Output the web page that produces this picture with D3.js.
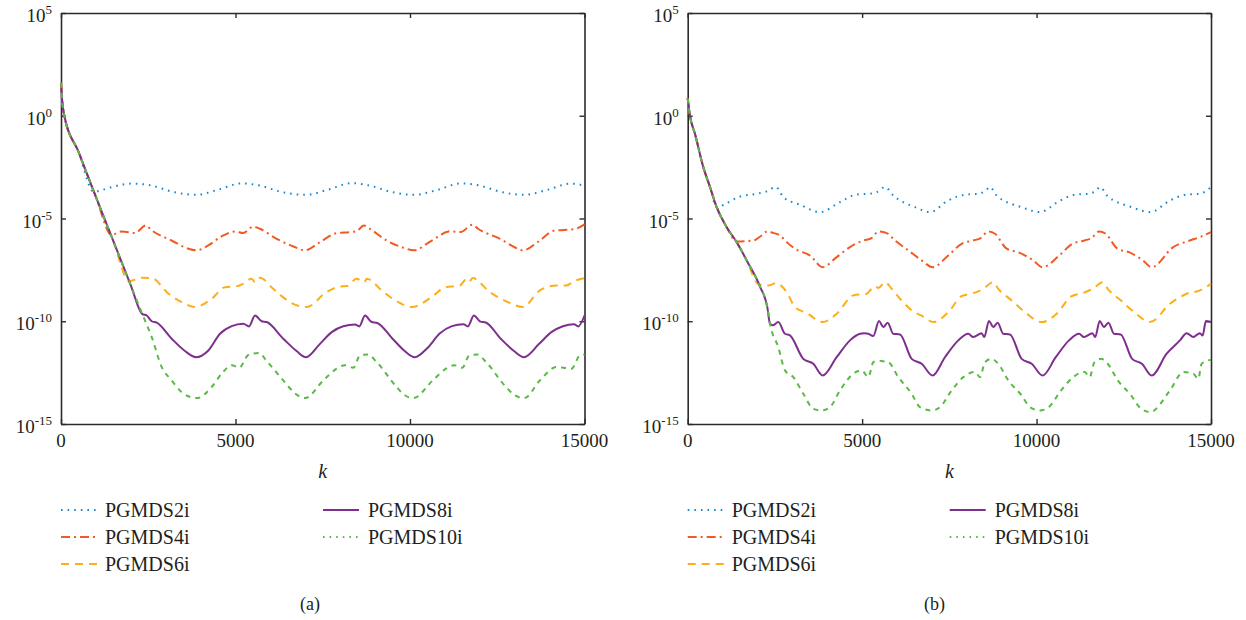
<!DOCTYPE html>
<html>
<head>
<meta charset="utf-8">
<script src="https://cdn.jsdelivr.net/npm/d3@7"></script>
<style>
  body { margin: 0; background: #fff; }
  svg text { font-family: "Liberation Serif", "DejaVu Serif", serif; fill: #231f20; }
</style>
</head>
<body>
<svg id="chart" width="1246" height="620"></svg>
<script>
// Residual curves, values stored as log10 of the error, pairs are [k, log10]
var kTicks = [0, 5000, 10000, 15000];
var yTickExp = [5, 0, -5, -10, -15];
var seriesNames = ["PGMDS2i", "PGMDS4i", "PGMDS6i", "PGMDS8i", "PGMDS10i"];
var panelLabels = ["(a)", "(b)"];

// ---- panel (a)
var descentA = [[0, 1.6], [30, 0.8], [95, 0], [500, -1.75], [1000, -3.95], [1500, -6.1], [2000, -8.25], [2330, -9.65]];

var pgmds2A = [[940, -3.7], [1200, -3.6], [1500, -3.45], [2050, -3.3], [2600, -3.4], [3200, -3.7], [3880, -3.85], [4500, -3.6],
  [5180, -3.29], [5700, -3.4], [6300, -3.7], [7000, -3.85], [7650, -3.6], [8320, -3.28], [8850, -3.4], [9450, -3.7],
  [10100, -3.85], [10800, -3.6], [11460, -3.29], [12000, -3.4], [12600, -3.7], [13260, -3.85], [13950, -3.6], [14600, -3.3], [15000, -3.4]];

var pgmds4A = [[1450, -5.8], [1740, -5.63], [2120, -5.71], [2430, -5.34], [2600, -5.58], [3170, -6.07], [3650, -6.47], [3890, -6.55],
  [4220, -6.31], [4600, -5.87], [4990, -5.63], [5220, -5.71], [5510, -5.39], [5700, -5.5], [6180, -5.99], [6660, -6.36],
  [6990, -6.55], [7420, -6.15], [7900, -5.71], [8280, -5.66], [8470, -5.62], [8680, -5.34], [8850, -5.5], [9330, -6.07],
  [9810, -6.42], [10110, -6.55], [10600, -6.1], [11150, -5.62], [11450, -5.66], [11790, -5.3], [11950, -5.5], [12580, -5.99],
  [13000, -6.4], [13230, -6.55], [13700, -6.1], [14110, -5.6], [14480, -5.55], [14750, -5.5], [15000, -5.29]];

var pgmds6A = [[1950, -8.05], [2310, -7.88], [2600, -7.9], [3080, -8.66], [3460, -9.07], [3840, -9.31], [4320, -8.9], [4700, -8.34],
  [4990, -8.31], [5220, -8.18], [5460, -7.93], [5560, -8.1], [5700, -7.88], [6080, -8.42], [6560, -9.07], [7040, -9.31],
  [7610, -8.58], [7990, -8.31], [8190, -8.29], [8470, -7.93], [8690, -8.1], [8760, -7.93], [9240, -8.58], [9700, -9.1],
  [10050, -9.31], [10600, -8.85], [11000, -8.35], [11430, -8.26], [11600, -7.98], [11690, -8.1], [11790, -7.9], [12300, -8.6],
  [12850, -9.1], [13230, -9.31], [13720, -8.5], [14200, -8.26], [14480, -8.26], [14700, -8.05], [15000, -7.9]];

var pgmds8A = [[2456, -9.72], [2600, -10.0], [2743, -10.07], [3172, -10.85], [3553, -11.45], [3868, -11.75], [4222, -11.42],
  [4556, -10.61], [4891, -10.24], [5223, -10.12], [5387, -10.25], [5559, -9.72], [5750, -10.0], [5893, -10.04], [6369, -10.85],
  [6750, -11.45], [7020, -11.75], [7421, -11.1], [7756, -10.53], [8088, -10.24], [8424, -10.16], [8547, -10.25], [8711, -9.72],
  [8903, -10.04], [9046, -10.07], [9500, -10.85], [9850, -11.45], [10140, -11.75], [10500, -11.3], [10850, -10.6], [11200, -10.24],
  [11530, -10.14], [11660, -10.25], [11830, -9.72], [12020, -10.02], [12170, -10.06], [12600, -10.85], [12980, -11.45],
  [13264, -11.75], [13700, -11.1], [14050, -10.53], [14380, -10.24], [14700, -10.14], [14820, -10.25], [15000, -9.72]];

var pgmds10A = [[2600, -10.77], [2886, -12.23], [3172, -12.88], [3458, -13.45], [3888, -13.74], [4318, -13.2], [4605, -12.55],
  [4891, -12.14], [5109, -12.26], [5350, -11.66], [5460, -11.58], [5700, -11.55], [5845, -11.83], [6370, -12.88], [6700, -13.5],
  [6991, -13.74], [7516, -12.88], [7898, -12.31], [8137, -12.14], [8376, -12.26], [8567, -11.66], [8806, -11.62], [9045, -11.99],
  [9618, -13.2], [9850, -13.6], [10095, -13.74], [10650, -12.88], [11030, -12.31], [11270, -12.14], [11500, -12.26], [11700, -11.66],
  [11940, -11.62], [12180, -11.99], [12750, -13.2], [13000, -13.6], [13275, -13.74], [13720, -12.88], [14198, -12.23],
  [14400, -12.26], [14628, -12.31], [14871, -11.66], [15000, -11.62]];

// ---- panel (b)
var descentB = [[0, 0.85], [66, 0], [212, -0.9], [447, -2.5], [639, -3.47], [831, -4.45], [1117, -5.42], [1404, -6.15],
  [1691, -7.04], [2072, -8.31], [2282, -9.31], [2359, -10.12]];

var pgmds2B = [[849, -4.45], [1117, -4.25], [1499, -3.93], [1977, -3.8], [2264, -3.68], [2531, -3.47], [2741, -3.96], [3219, -4.33],
  [3792, -4.69], [4365, -4.2], [4844, -3.83], [5177, -3.8], [5417, -3.72], [5655, -3.47], [5893, -3.88], [6515, -4.45],
  [6945, -4.69], [7469, -4.12], [7948, -3.84], [8329, -3.8], [8521, -3.67], [8664, -3.47], [8856, -3.88], [9573, -4.45],
  [10098, -4.69], [10650, -4.15], [11100, -3.84], [11480, -3.8], [11680, -3.67], [11822, -3.47], [12020, -3.88], [12730, -4.45],
  [13255, -4.69], [13828, -4.12], [14306, -3.83], [14690, -3.8], [14850, -3.67], [15000, -3.47]];

var pgmds4B = [[1404, -6.12], [1882, -6.07], [2100, -5.85], [2282, -5.63], [2450, -5.7], [2646, -5.82], [2837, -6.15], [3124, -6.52],
  [3506, -6.8], [3869, -7.37], [4270, -6.88], [4652, -6.39], [5034, -6.07], [5273, -5.95], [5464, -5.63], [5703, -5.71],
  [5941, -6.07], [6323, -6.55], [6706, -7.04], [7021, -7.37], [7469, -6.8], [7851, -6.23], [8185, -6.07], [8400, -5.95],
  [8616, -5.63], [8807, -5.74], [9142, -6.47], [9477, -6.64], [9906, -7.04], [10175, -7.37], [10650, -6.8], [11030, -6.23],
  [11370, -6.07], [11580, -5.95], [11790, -5.63], [11980, -5.74], [12320, -6.47], [12650, -6.64], [13050, -7.04], [13299, -7.37],
  [13918, -6.39], [14397, -6.07], [14683, -5.9], [15000, -5.66]];

var pgmds6B = [[2030, -8.2], [2310, -8.26], [2531, -8.15], [2837, -8.58], [3075, -9.31], [3410, -9.6], [3869, -10.04], [4270, -9.64],
  [4747, -8.74], [5130, -8.66], [5273, -8.42], [5380, -8.3], [5464, -8.38], [5655, -8.1], [5846, -8.42], [6133, -8.99],
  [6420, -9.47], [6753, -9.77], [7040, -10.04], [7469, -9.56], [7851, -8.78], [8234, -8.61], [8473, -8.42], [8759, -8.1],
  [8902, -8.42], [9286, -8.99], [9668, -9.56], [10146, -10.04], [10600, -9.6], [10980, -8.8], [11370, -8.6], [11610, -8.42],
  [11900, -8.1], [12040, -8.42], [12420, -8.99], [12800, -9.56], [13250, -10.04], [13823, -9.15], [14302, -8.66],
  [14683, -8.5], [15000, -8.18]];

var pgmds8B = [[2436, -10.2], [2597, -10.04], [2789, -10.61], [2932, -10.69], [3314, -11.83], [3600, -12.07], [3869, -12.64],
  [4270, -11.75], [4652, -10.93], [4938, -10.61], [5062, -10.58], [5177, -10.61], [5320, -10.72], [5484, -9.99], [5607, -10.28],
  [5732, -10.07], [5893, -10.61], [6085, -10.64], [6420, -11.83], [6706, -12.07], [7021, -12.64], [7374, -11.75], [7756, -10.93],
  [8042, -10.61], [8185, -10.77], [8426, -10.58], [8501, -10.77], [8636, -9.99], [8759, -10.28], [8885, -10.07], [9045, -10.61],
  [9238, -10.64], [9573, -11.83], [9860, -12.07], [10175, -12.64], [10550, -11.75], [10930, -10.93], [11220, -10.61],
  [11360, -10.77], [11600, -10.58], [11680, -10.77], [11810, -9.99], [11930, -10.28], [12060, -10.07], [12220, -10.61],
  [12410, -10.64], [12740, -11.83], [13020, -12.07], [13299, -12.64], [13729, -11.58], [14110, -10.93], [14302, -10.58],
  [14492, -10.77], [14683, -10.58], [14760, -10.69], [14855, -9.99], [15000, -10.04]];

var pgmds10B = [[2597, -11.26], [2789, -12.39], [3027, -12.72], [3314, -13.53], [3600, -14.26], [3841, -14.34], [4079, -14.18],
  [4365, -13.37], [4747, -12.55], [4987, -12.39], [5177, -12.72], [5320, -11.99], [5464, -11.91], [5600, -11.95], [5750, -11.99],
  [6037, -12.72], [6420, -13.53], [6658, -14.18], [6993, -14.34], [7231, -14.18], [7566, -13.37], [7899, -12.72], [8234, -12.47],
  [8378, -12.72], [8521, -11.99], [8712, -11.83], [8902, -12.07], [9190, -12.88], [9573, -13.61], [9811, -14.18], [10098, -14.34],
  [10350, -14.18], [10700, -13.37], [11050, -12.72], [11380, -12.47], [11520, -12.72], [11660, -11.99], [11850, -11.83],
  [12040, -12.07], [12330, -12.88], [12710, -13.61], [12950, -14.18], [13250, -14.42], [13823, -13.37], [14206, -12.47],
  [14492, -12.55], [14635, -12.8], [14731, -12.07], [15000, -11.87]];

// Styles per series (plot dash / legend dash)
var seriesStyle = [
    { color: "#1a86d0", dash: "1.6,5", legendDash: "1.6,5", width: 2 },
    { color: "#f25a24", dash: "9,4,2,4", legendDash: "9,4,2,4", width: 2 },
    { color: "#fdae1d", dash: "8,6", legendDash: "8,6", width: 2 },
    { color: "#7e2f8e", dash: null, legendDash: null, width: 2 },
    { color: "#5cb848", dash: "5,5", legendDash: "1.6,5", width: 2 }
];

// join a shared descent with a branch: descent points before the branch start
function withDescent(descent, branch) {
    var start = branch[0][0];
    return descent.filter(function(p) { return p[0] < start; }).concat(branch);
}

var panels = [
    { x0: 61, x1: 584.5, label: panelLabels[0], labelX: 310,
      series: [pgmds2A, pgmds4A, pgmds6A, pgmds8A, pgmds10A], descent: descentA },
    { x0: 687.7, x1: 1211, label: panelLabels[1], labelX: 934.5,
      series: [pgmds2B, pgmds4B, pgmds6B, pgmds8B, pgmds10B], descent: descentB }
];

var yTop = 13, yBottom = 424;
var frameColor = "#2b2b2b";
var svg = d3.select("#chart");

panels.forEach(function(p) {
    var x = d3.scaleLinear().domain([0, 15000]).range([p.x0, p.x1]);
    var y = d3.scaleLog().domain([1e-15, 1e5]).range([yBottom, yTop]);
    var g = svg.append("g");

    var yTickVals = yTickExp.map(function(e) { return Math.pow(10, e); });

    // axes on all four sides, ticks pointing inward
    var axB = g.append("g").attr("transform", "translate(0," + yBottom + ")")
        .call(d3.axisBottom(x).tickValues(kTicks).tickSizeInner(-5).tickSizeOuter(0).tickFormat(""));
    var axT = g.append("g").attr("transform", "translate(0," + yTop + ")")
        .call(d3.axisTop(x).tickValues(kTicks).tickSizeInner(-5).tickSizeOuter(0).tickFormat(""));
    var axL = g.append("g").attr("transform", "translate(" + p.x0 + ",0)")
        .call(d3.axisLeft(y).tickValues(yTickVals).tickSizeInner(-5).tickSizeOuter(0).tickFormat(""));
    var axR = g.append("g").attr("transform", "translate(" + p.x1 + ",0)")
        .call(d3.axisRight(y).tickValues(yTickVals).tickSizeInner(-5).tickSizeOuter(0).tickFormat(""));

    [axB, axT, axL, axR].forEach(function(a) {
        a.select(".domain").attr("stroke", frameColor).attr("stroke-width", 1.6);
        a.selectAll(".tick line").attr("stroke", frameColor).attr("stroke-width", 1.4);
    });

    // x tick labels
    g.selectAll(".xlab").data(kTicks).enter().append("text")
        .attr("x", function(d) { return x(d); })
        .attr("y", 447)
        .attr("text-anchor", "middle")
        .style("font-size", "19px")
        .text(function(d) { return d; });

    // y tick labels 10^n
    var yl = g.selectAll(".ylab").data(yTickExp).enter().append("text")
        .attr("x", p.x0 - 9)
        .attr("y", function(d) { return y(Math.pow(10, d)) + 9; })
        .attr("text-anchor", "end")
        .style("font-size", "19px");
    yl.append("tspan").text("10");
    yl.append("tspan").attr("dy", -8).style("font-size", "13px").text(function(d) { return d; });

    // axis title and panel label
    g.append("text").attr("x", (p.x0 + p.x1) / 2).attr("y", 478)
        .attr("text-anchor", "middle").style("font-size", "20px").style("font-style", "italic").text("k");
    g.append("text").attr("x", p.labelX).attr("y", 610)
        .attr("text-anchor", "middle").style("font-size", "18px").text(p.label);

    // curves
    var line = d3.line()
        .x(function(d) { return x(d[0]); })
        .y(function(d) { return y(Math.pow(10, d[1])); })
        .curve(d3.curveMonotoneX);

    p.series.forEach(function(s, i) {
        var st = seriesStyle[i];
        g.append("path")
            .datum(withDescent(p.descent, s))
            .attr("d", line)
            .attr("fill", "none")
            .attr("stroke", st.color)
            .attr("stroke-width", st.width)
            .attr("stroke-dasharray", st.dash)
            .attr("stroke-linejoin", "round");
    });

    // legend: two columns
    var rows = [510, 537, 564, 510, 537];
    seriesNames.forEach(function(name, i) {
        var st = seriesStyle[i];
        var lx = p.x0 + (i < 3 ? 0 : 262);
        g.append("line")
            .attr("x1", lx).attr("x2", lx + 36)
            .attr("y1", rows[i]).attr("y2", rows[i])
            .attr("stroke", st.color).attr("stroke-width", st.width)
            .attr("stroke-dasharray", st.legendDash);
        g.append("text")
            .attr("x", lx + (i < 3 ? 44 : 45))
            .attr("y", rows[i] + 6.5)
            .style("font-size", "20px")
            .text(name);
    });
});
</script>
</body>
</html>
